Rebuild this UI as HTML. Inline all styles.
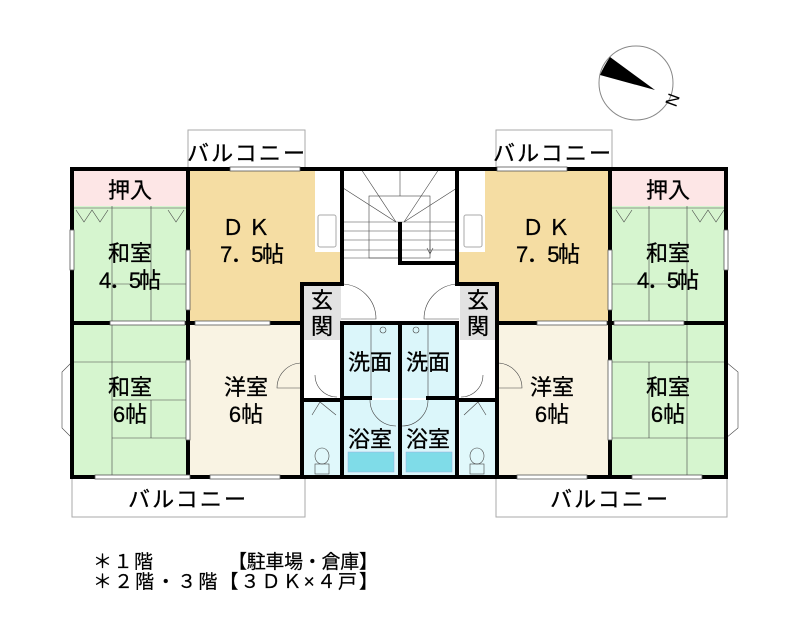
<!DOCTYPE html>
<html><head><meta charset="utf-8"><style>
html,body{margin:0;padding:0;background:#fff;}
svg{display:block;}
text{font-family:"Liberation Sans","Noto Sans CJK JP",sans-serif;fill:#000;}
</style></head><body>
<svg width="800" height="624" viewBox="0 0 800 624" xmlns="http://www.w3.org/2000/svg">
<circle cx="636" cy="83" r="37" fill="#fff" stroke="#888" stroke-width="1"/>
<path d="M610,57 Q604,66 600,75 L655,90 Z" fill="#000"/>
<text x="667" y="98" font-size="17" font-family="Liberation Serif,serif" transform="rotate(110 667 98)" text-anchor="middle">N</text>

<g fill="none" stroke="#aaa" stroke-width="1">
<rect x="188" y="130" width="117" height="39"/>
<rect x="496" y="130" width="116" height="39"/>
<rect x="72" y="477" width="233" height="40"/>
<rect x="496" y="477" width="231" height="40"/>
</g>
<g font-size="22" stroke="#000" stroke-width="0.3">
<text x="187" y="161" textLength="118">バルコニー</text>
<text x="493" y="161" textLength="118">バルコニー</text>
<text x="128" y="507" textLength="118">バルコニー</text>
<text x="550" y="507" textLength="118">バルコニー</text>
</g>

<rect x="72" y="169" width="116" height="37" fill="#fde6e6"/>
<rect x="72" y="206" width="116" height="117" fill="#d6f5cf"/>
<rect x="72" y="323" width="116" height="154" fill="#d6f5cf"/>
<rect x="190" y="169" width="152" height="115" fill="#f5dda3"/>
<rect x="190" y="284" width="112" height="39" fill="#f5dda3"/>
<rect x="315" y="169" width="27" height="83" fill="#fff"/>
<rect x="318" y="215" width="18" height="32" fill="#fff" stroke="#aaa" rx="2"/>
<rect x="190" y="323" width="112" height="154" fill="#f9f3e3"/>
<rect x="304" y="286" width="37" height="54" fill="#e2e2e2"/>
<rect x="304" y="400" width="37" height="77" fill="#e0f8fb"/>
<rect x="344" y="323" width="54" height="75" fill="#dbf6fa"/>
<rect x="344" y="400" width="54" height="77" fill="#dbf6fa"/>
<rect x="348" y="452" width="46" height="20" fill="#7fdce8" stroke="#9ad" stroke-width="0.5"/>
<rect x="612" y="169" width="114" height="37" fill="#fde6e6"/>
<rect x="612" y="206" width="114" height="117" fill="#d6f5cf"/>
<rect x="612" y="323" width="114" height="154" fill="#d6f5cf"/>
<rect x="458" y="169" width="152" height="115" fill="#f5dda3"/>
<rect x="497" y="284" width="113" height="39" fill="#f5dda3"/>
<rect x="458" y="169" width="27" height="83" fill="#fff"/>
<rect x="464" y="215" width="18" height="32" fill="#fff" stroke="#aaa" rx="2"/>
<rect x="497" y="323" width="113" height="154" fill="#f9f3e3"/>
<rect x="460" y="286" width="37" height="54" fill="#e2e2e2"/>
<rect x="460" y="400" width="37" height="77" fill="#e0f8fb"/>
<rect x="402" y="323" width="54" height="75" fill="#dbf6fa"/>
<rect x="402" y="400" width="54" height="77" fill="#dbf6fa"/>
<rect x="406" y="452" width="46" height="20" fill="#7fdce8" stroke="#9ad" stroke-width="0.5"/>

<g stroke="#444" stroke-width="0.6" fill="none">
<line x1="112" y1="206" x2="112" y2="323"/><line x1="151" y1="206" x2="151" y2="323"/>
<line x1="112" y1="284" x2="188" y2="284"/>
<line x1="112" y1="323" x2="112" y2="477"/><line x1="72" y1="362" x2="188" y2="362"/>
<line x1="112" y1="400" x2="188" y2="400"/><line x1="151" y1="400" x2="151" y2="438"/>
<line x1="112" y1="438" x2="188" y2="438"/>
<line x1="687" y1="206" x2="687" y2="323"/><line x1="649" y1="206" x2="649" y2="323"/>
<line x1="612" y1="284" x2="687" y2="284"/>
<line x1="687" y1="323" x2="687" y2="477"/><line x1="612" y1="362" x2="726" y2="362"/>
<line x1="612" y1="438" x2="726" y2="438"/><line x1="649" y1="362" x2="649" y2="438"/>
<path d="M76,210 L84,222 L92,210 L100,222 L108,210"/><path d="M168,210 L176,222 L184,210"/>
<path d="M616,210 L624,222 L632,210"/><path d="M692,210 L700,222 L708,210 L716,222 L724,210"/>
<line x1="72" y1="208" x2="188" y2="208"/><line x1="612" y1="208" x2="726" y2="208"/>
<rect x="369" y="196" width="61" height="62"/>
<line x1="400" y1="169" x2="400" y2="196"/>
<line x1="343" y1="222" x2="457" y2="222"/><line x1="343" y1="231" x2="398" y2="231"/><line x1="343" y1="240" x2="398" y2="240"/>
<line x1="343" y1="250" x2="398" y2="250"/><line x1="343" y1="258" x2="398" y2="258"/>
<line x1="402" y1="231" x2="457" y2="231"/><line x1="402" y1="240" x2="457" y2="240"/><line x1="402" y1="250" x2="457" y2="250"/>
<line x1="396" y1="222" x2="361" y2="169"/><line x1="396" y1="222" x2="343" y2="188"/>
<line x1="404" y1="222" x2="439" y2="169"/><line x1="404" y1="222" x2="457" y2="188"/>
<path d="M430,240 L430,254 M427,248 L430,254 L433,248"/>
<path d="M341,284 A35,35 0 0 1 376,319 L341,319"/>
<path d="M459,284 A35,35 0 0 0 424,319 L459,319"/>
<path d="M302,363 A25,25 0 0 0 277,388 L302,388"/>
<path d="M497,363 A25,25 0 0 1 522,388 L497,388"/>
<path d="M315,375 A22,22 0 0 0 337,397"/><path d="M483,375 A22,22 0 0 1 461,397"/>
<path d="M312,415 L320,402 L336,415"/><path d="M464,415 L478,402 L486,415"/>
<path d="M370,400 A26,26 0 0 0 396,426"/><path d="M428,400 A26,26 0 0 1 402,426"/>
<line x1="371" y1="323" x2="371" y2="398"/><line x1="428" y1="323" x2="428" y2="398"/>
<circle cx="383" cy="330" r="3"/><circle cx="416" cy="330" r="3"/>
<ellipse cx="322" cy="456" rx="7" ry="8"/><rect x="315" y="464" width="14" height="10"/>
<ellipse cx="477" cy="456" rx="7" ry="8"/><rect x="470" y="464" width="14" height="10"/>
<path d="M72,362 L62,372 L62,428 L72,438"/>
<path d="M726,362 L738,372 L738,428 L726,438"/>
</g>

<g stroke="#000" stroke-width="4" fill="none" stroke-linecap="square">
<rect x="72" y="169" width="654" height="308"/>
<line x1="188" y1="169" x2="188" y2="477"/>
<line x1="342" y1="169" x2="342" y2="284"/>
<line x1="457" y1="169" x2="457" y2="284"/>
<line x1="302" y1="284" x2="342" y2="284"/><line x1="302" y1="284" x2="302" y2="477"/>
<line x1="457" y1="284" x2="497" y2="284"/><line x1="497" y1="284" x2="497" y2="477"/>
<line x1="72" y1="323" x2="302" y2="323"/><line x1="497" y1="323" x2="726" y2="323"/>
<line x1="610" y1="169" x2="610" y2="477"/>
<line x1="342" y1="323" x2="457" y2="323"/>
<line x1="342" y1="323" x2="342" y2="477"/><line x1="457" y1="323" x2="457" y2="477"/>
<line x1="400" y1="323" x2="400" y2="477"/>
<line x1="400" y1="224" x2="400" y2="263"/><line x1="400" y1="263" x2="457" y2="263"/>
<line x1="342" y1="398" x2="370" y2="398"/><line x1="428" y1="398" x2="457" y2="398"/>
<line x1="302" y1="400" x2="342" y2="400"/><line x1="457" y1="400" x2="497" y2="400"/>
</g>
<g fill="#fff" stroke="#555" stroke-width="0.8">
<rect x="230" y="167" width="70" height="4"/><rect x="497" y="167" width="70" height="4"/>
<rect x="95" y="475" width="95" height="4"/><rect x="210" y="475" width="70" height="4"/>
<rect x="517" y="475" width="70" height="4"/><rect x="632" y="475" width="70" height="4"/>
<rect x="70" y="230" width="4" height="40"/><rect x="724" y="230" width="4" height="40"/>
<rect x="186" y="250" width="4" height="60"/><rect x="608" y="250" width="4" height="60"/>
<rect x="186" y="360" width="4" height="80"/><rect x="608" y="360" width="4" height="80"/>
<rect x="110" y="321" width="75" height="4"/><rect x="195" y="321" width="75" height="4"/>
<rect x="537" y="321" width="70" height="4"/><rect x="614" y="321" width="70" height="4"/>
</g>

<g font-size="22" text-anchor="middle" stroke="#000" stroke-width="0.3">
<text x="130" y="198">押入</text><text x="668" y="198">押入</text>
<text x="130" y="261">和室</text><text x="130" y="288" textLength="62">4．5帖</text>
<text x="668" y="261">和室</text><text x="668" y="288" textLength="62">4．5帖</text>
<text x="246" y="235" textLength="48">ＤＫ</text><text x="252" y="262" textLength="64">7．5帖</text>
<text x="546" y="235" textLength="48">ＤＫ</text><text x="548" y="262" textLength="64">7．5帖</text>
<text x="130" y="395">和室</text><text x="130" y="422">6帖</text>
<text x="668" y="395">和室</text><text x="668" y="422">6帖</text>
<text x="246" y="395">洋室</text><text x="246" y="422">6帖</text>
<text x="552" y="395">洋室</text><text x="552" y="422">6帖</text>
<text x="322" y="308">玄</text><text x="322" y="334">関</text>
<text x="478" y="308">玄</text><text x="478" y="334">関</text>
<text x="370" y="370">洗面</text><text x="428" y="370">洗面</text>
<text x="370" y="447">浴室</text><text x="428" y="447">浴室</text>
</g>
<g font-size="19" stroke="#000" stroke-width="0.2">
<text x="93" y="568" textLength="60">＊１階</text><text x="228" y="568" textLength="150">【駐車場・倉庫】</text>
<text x="93" y="588" textLength="285">＊２階・３階【３ＤＫ×４戸】</text>
</g>
</svg>
</body></html>
